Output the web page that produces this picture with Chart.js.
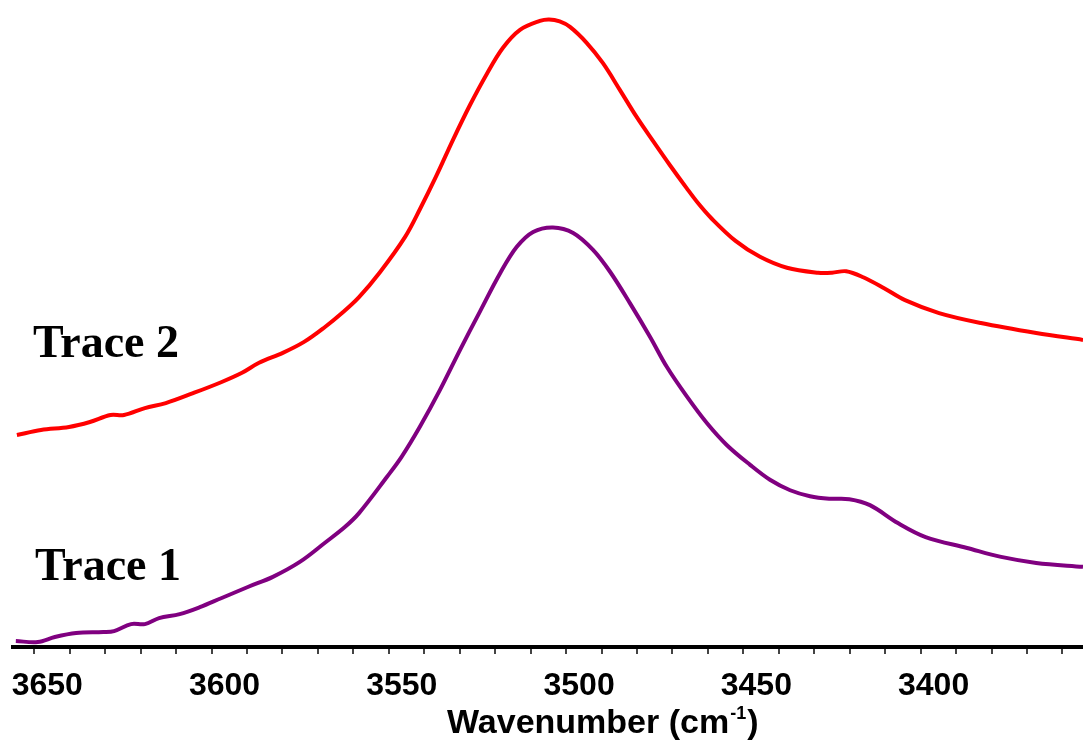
<!DOCTYPE html>
<html>
<head>
<meta charset="utf-8">
<title>IR spectra, O–H stretching region</title>
<script src="https://cdn.jsdelivr.net/npm/chart.js@4.4.1/dist/chart.umd.min.js"></script>
<style>
  html, body { margin: 0; padding: 0; background: #ffffff; }
  #wrap { width: 1083px; height: 745px; }
</style>
</head>
<body>
<div id="wrap"><canvas id="spectra" width="1083" height="745"></canvas></div>
<script>
// Wavenumber window (cm-1), drawn high to low
const xHigh = 3659.7;
const xLow = 3357.9;

// Trace 1 (purple)
const trace1Wavenumber = [3658.9, 3652.7, 3647.9, 3641.9, 3634.2, 3631.2, 3626.4, 3622.5, 3618.5, 3612.7,
  3607.0, 3601.0, 3593.3, 3586.4, 3578.8, 3571.8, 3566.1, 3562.1, 3554.2, 3550.1,
  3544.9, 3539.3, 3533.6, 3528.0, 3522.3, 3517.6, 3513.0, 3507.4, 3501.7, 3496.1,
  3491.3, 3485.7, 3480.0, 3475.3, 3469.7, 3464.0, 3458.4, 3451.8, 3446.2, 3440.5,
  3434.9, 3429.5, 3423.8, 3418.0, 3410.1, 3402.3, 3390.6, 3381.0, 3371.1, 3357.9];
const trace1Absorbance = [0.012, 0.010, 0.020, 0.028, 0.030, 0.032, 0.046, 0.046, 0.058, 0.066,
  0.080, 0.098, 0.121, 0.141, 0.171, 0.209, 0.241, 0.269, 0.342, 0.382,
  0.443, 0.516, 0.597, 0.674, 0.751, 0.804, 0.834, 0.843, 0.832, 0.798,
  0.754, 0.691, 0.623, 0.563, 0.504, 0.450, 0.406, 0.366, 0.336, 0.315,
  0.303, 0.298, 0.297, 0.285, 0.249, 0.221, 0.199, 0.181, 0.169, 0.161];

// Trace 2 (red)
const trace2Wavenumber = [3658.6, 3651.8, 3643.9, 3638.0, 3632.2, 3628.4, 3622.5, 3616.6, 3608.9, 3601.0,
  3595.1, 3590.3, 3583.6, 3577.6, 3571.7, 3566.9, 3562.1, 3556.2, 3549.1, 3544.9,
  3540.2, 3535.6, 3530.8, 3526.1, 3521.5, 3516.7, 3511.1, 3508.5, 3505.5, 3502.6,
  3497.9, 3493.3, 3488.5, 3483.8, 3479.2, 3474.4, 3469.7, 3466.5, 3462.8, 3455.9,
  3449.0, 3441.4, 3432.6, 3428.7, 3424.7, 3419.9, 3414.0, 3408.1, 3398.5, 3386.7,
  3371.1, 3357.9];
const trace2Absorbance = [0.426, 0.436, 0.442, 0.452, 0.466, 0.466, 0.480, 0.490, 0.510, 0.532,
  0.551, 0.571, 0.591, 0.613, 0.643, 0.671, 0.703, 0.753, 0.824, 0.880,
  0.948, 1.019, 1.089, 1.151, 1.204, 1.240, 1.258, 1.261, 1.257, 1.246,
  1.214, 1.173, 1.119, 1.065, 1.017, 0.968, 0.922, 0.892, 0.862, 0.816,
  0.784, 0.762, 0.752, 0.752, 0.755, 0.743, 0.721, 0.697, 0.671, 0.651,
  0.631, 0.617];

// Axis ticks: minor marks every 10 cm-1, labelled every 50 cm-1
const tickMarks = [3653.7, 3643.7, 3633.7, 3623.7, 3613.7, 3603.7, 3593.7, 3583.7, 3573.7, 3563.7,
  3553.7, 3543.7, 3533.7, 3523.7, 3513.7, 3503.7, 3493.7, 3483.7, 3473.7, 3463.7,
  3453.7, 3443.7, 3433.7, 3423.7, 3413.7, 3403.7, 3393.7, 3383.7, 3373.7, 3363.7];
const tickLabels = ['3650', '3600', '3550', '3500', '3450', '3400'];

const traceNames = ['Trace 1', 'Trace 2'];
const axisTitle = ['Wavenumber (cm', '-1', ')'];

function pairs(xs, ys) {
  return xs.map((x, i) => ({ x: x, y: ys[i] }));
}

// Labels sit 3.7 cm-1 to the low side of each tick mark
function labelFor(value) {
  for (const t of tickLabels) {
    if (Math.abs(Number(t) + 3.7 - value) < 0.5) return t;
  }
  return '';
}

// Trace names and the axis title with its superscript
const annotations = {
  id: 'annotations',
  afterDraw(chart) {
    const ctx = chart.ctx;
    const area = chart.chartArea;
    ctx.save();
    ctx.fillStyle = '#000000';
    ctx.textBaseline = 'alphabetic';
    ctx.textAlign = 'left';
    ctx.font = 'bold 46px "Liberation Serif", "Times New Roman", serif';
    ctx.fillText(traceNames[1], area.left + 20, 357);
    ctx.fillText(traceNames[0], area.left + 22, 580);

    const base = 733;
    let x = 447;
    ctx.font = 'bold 34px "Liberation Sans", Arial, sans-serif';
    ctx.fillText(axisTitle[0], x, base);
    x += ctx.measureText(axisTitle[0]).width;
    ctx.font = 'bold 18px "Liberation Sans", Arial, sans-serif';
    ctx.fillText(axisTitle[1], x + 1, base - 14);
    x += ctx.measureText(axisTitle[1]).width + 2;
    ctx.font = 'bold 34px "Liberation Sans", Arial, sans-serif';
    ctx.fillText(axisTitle[2], x, base);
    ctx.restore();
  }
};

new Chart(document.getElementById('spectra'), {
  type: 'line',
  data: {
    datasets: [
      {
        label: traceNames[1],
        data: pairs(trace2Wavenumber, trace2Absorbance),
        borderColor: '#ff0000',
        borderWidth: 4,
        pointRadius: 0,
        tension: 0.35,
        fill: false
      },
      {
        label: traceNames[0],
        data: pairs(trace1Wavenumber, trace1Absorbance),
        borderColor: '#800080',
        borderWidth: 4,
        pointRadius: 0,
        tension: 0.35,
        fill: false
      }
    ]
  },
  options: {
    responsive: false,
    animation: false,
    devicePixelRatio: 1,
    layout: { padding: { left: 13, right: 0, top: 0, bottom: 0 } },
    plugins: {
      legend: { display: false },
      tooltip: { enabled: false },
      title: { display: false }
    },
    scales: {
      x: {
        type: 'linear',
        reverse: true,
        min: xLow,
        max: xHigh,
        afterBuildTicks(scale) {
          scale.ticks = tickMarks.map(v => ({ value: v }));
        },
        afterFit(scale) {
          scale.height = 98;
          scale.paddingLeft = 0;
          scale.paddingRight = 0;
        },
        border: { display: true, color: '#000000', width: 4 },
        grid: {
          display: true,
          drawOnChartArea: false,
          drawTicks: true,
          tickLength: 7,
          color: '#444444',
          lineWidth: 2
        },
        ticks: {
          autoSkip: false,
          maxRotation: 0,
          minRotation: 0,
          padding: 13,
          labelOffset: 13,
          color: '#000000',
          font: { family: '"Liberation Sans", Arial, sans-serif', size: 32, weight: 'bold' },
          callback: (value) => labelFor(value)
        }
      },
      y: {
        display: false,
        min: 0,
        max: 1.3
      }
    }
  },
  plugins: [annotations]
});
</script>
</body>
</html>
